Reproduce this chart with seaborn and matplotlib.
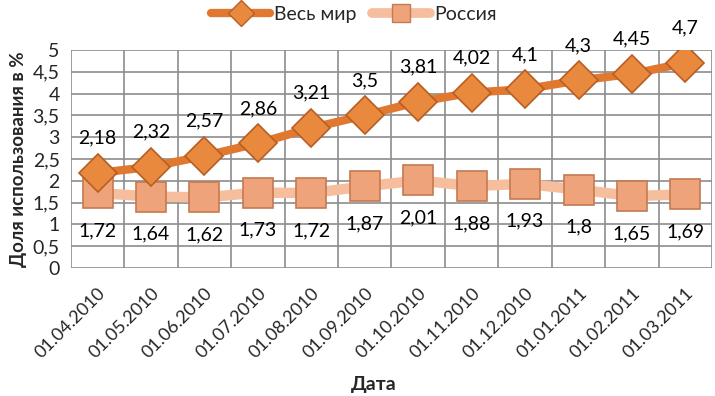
import pandas as pd
import matplotlib
matplotlib.use("Agg")
import matplotlib.pyplot as plt
import seaborn as sns
import numpy as np

sns.set_style("white")
plt.rcParams['font.family'] = ['Lato', 'DejaVu Sans']

## data ##
dates = ["01.04.2010", "01.05.2010", "01.06.2010", "01.07.2010", "01.08.2010", "01.09.2010",
         "01.10.2010", "01.11.2010", "01.12.2010", "01.01.2011", "01.02.2011", "01.03.2011"]
world = [2.18, 2.32, 2.57, 2.86, 3.21, 3.5, 3.81, 4.02, 4.1, 4.3, 4.45, 4.7]
russia = [1.72, 1.64, 1.62, 1.73, 1.72, 1.87, 2.01, 1.88, 1.93, 1.8, 1.65, 1.69]
series_names = ["Весь мир", "Россия"]

df = pd.DataFrame({
    "idx": list(range(len(dates))) * 2,
    "Значение": world + russia,
    "Ряд": [series_names[0]] * len(dates) + [series_names[1]] * len(dates),
})

def fmt(v):
    return ("%g" % v).replace(".", ",")

fig = plt.figure(figsize=(7.15, 3.96), dpi=100)
ax = fig.add_axes([0.099, 0.323, 0.897, 0.551])

line_cols = {"Весь мир": "#E0782F", "Россия": "#F7BE9E"}
sns.lineplot(data=df, x="idx", y="Значение", hue="Ряд", palette=line_cols,
             hue_order=series_names, ax=ax, legend=False, zorder=3)
ax.lines[0].set_linewidth(6)
ax.lines[1].set_linewidth(7.5)

# markers drawn on top
ax.plot(df[df["Ряд"] == "Россия"]["idx"], russia, ls="none", marker="s", markersize=21,
        markerfacecolor="#EFA37A", markeredgecolor="#C47A52", markeredgewidth=1.2, zorder=4)
ax.plot(df[df["Ряд"] == "Весь мир"]["idx"], world, ls="none", marker="D", markersize=19,
        markerfacecolor="#E8893D", markeredgecolor="#B85E22", markeredgewidth=1.2, zorder=5)

for i, v in enumerate(world):
    ax.annotate(fmt(v), (i, v), xytext=(0, 25), textcoords="offset points",
                ha="center", va="center", fontsize=14, color="black")
for i, v in enumerate(russia):
    ax.annotate(fmt(v), (i, v), xytext=(0, -27), textcoords="offset points",
                ha="center", va="center", fontsize=14, color="black")

ax.set_xlim(-0.5, len(dates) - 0.5)
ax.set_ylim(0, 5)
ax.set_yticks(np.arange(0, 5.01, 0.5))
ax.set_yticklabels([fmt(v) for v in np.arange(0, 5.01, 0.5)], fontsize=14)
ax.set_xticks(range(len(dates)))
ax.set_xticklabels(dates, rotation=45, ha="right", rotation_mode="anchor", fontsize=13)
ax.tick_params(axis="x", length=0, pad=12)
ax.tick_params(axis="y", length=0, pad=8)
for xb in np.arange(-0.5, len(dates), 1):
    ax.axvline(xb, color="#8C8C8C", lw=1.2, zorder=1)
for yb in np.arange(0, 5.01, 0.5):
    ax.axhline(yb, color="#8C8C8C", lw=1.2, zorder=1)
sns.despine(ax=ax, left=True, bottom=True, top=True, right=True)

ax.set_xlabel("")
fig.text(0.523, 0.03, "Дата", ha="center", va="center", fontsize=14, fontweight="bold")
ax.set_ylabel("Доля использования в %", fontsize=13.5, fontweight="bold", labelpad=4)

h1, = ax.plot([], [], color="#E0782F", lw=6, marker="D", markersize=13,
              markerfacecolor="#E8893D", markeredgecolor="#B85E22")
h2, = ax.plot([], [], color="#F7BE9E", lw=7, marker="s", markersize=13,
              markerfacecolor="#EFA37A", markeredgecolor="#C47A52")
fig.legend([h1, h2], series_names, loc="upper center", bbox_to_anchor=(0.495, 1.03), ncol=2,
           frameon=False, fontsize=14, handlelength=3.0, columnspacing=0.8, handletextpad=0.2)

fig.savefig("out.png", dpi=100)
